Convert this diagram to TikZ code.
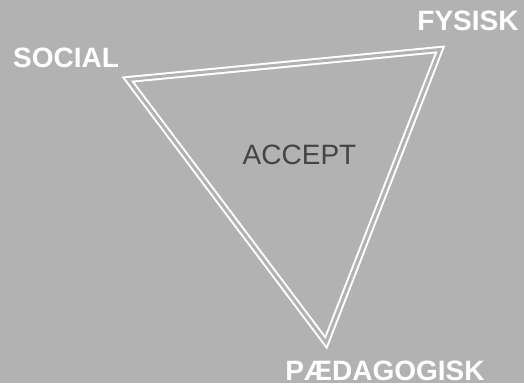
\documentclass[tikz,border=0pt]{standalone}
\usepackage{fontspec}
\setmainfont{Liberation Sans}
\definecolor{bg}{HTML}{B2B2B2}
\definecolor{txt}{HTML}{444444}
\begin{document}
\begin{tikzpicture}[x=1pt,y=-1pt,
  corner/.style={text=white,font=\fontsize{28pt}{30pt}\selectfont\bfseries,anchor=base,inner sep=0pt},
  centre/.style={text=txt,font=\fontsize{28pt}{30pt}\selectfont,anchor=base,inner sep=0pt},
  tri/.style={draw=white,line width=2pt,double=bg,double distance=3pt,line join=miter}]
\fill[bg] (0,0) rectangle (524,383);
\useasboundingbox (0,0) rectangle (524,383);
\coordinate (A) at (128,79.5);
\coordinate (B) at (440,49.5);
\coordinate (C) at (326,342.5);
\draw[tri] (A) -- (B) -- (C) -- cycle;
\node[corner] (social) at (66,67) {SOCIAL};
\node[corner] (fysisk) at (468,30) {FYSISK};
\node[corner] (paed) at (385,380) {PÆDAGOGISK};
\node[centre] (accept) at (299.5,164) {ACCEPT};
\end{tikzpicture}
\end{document}
